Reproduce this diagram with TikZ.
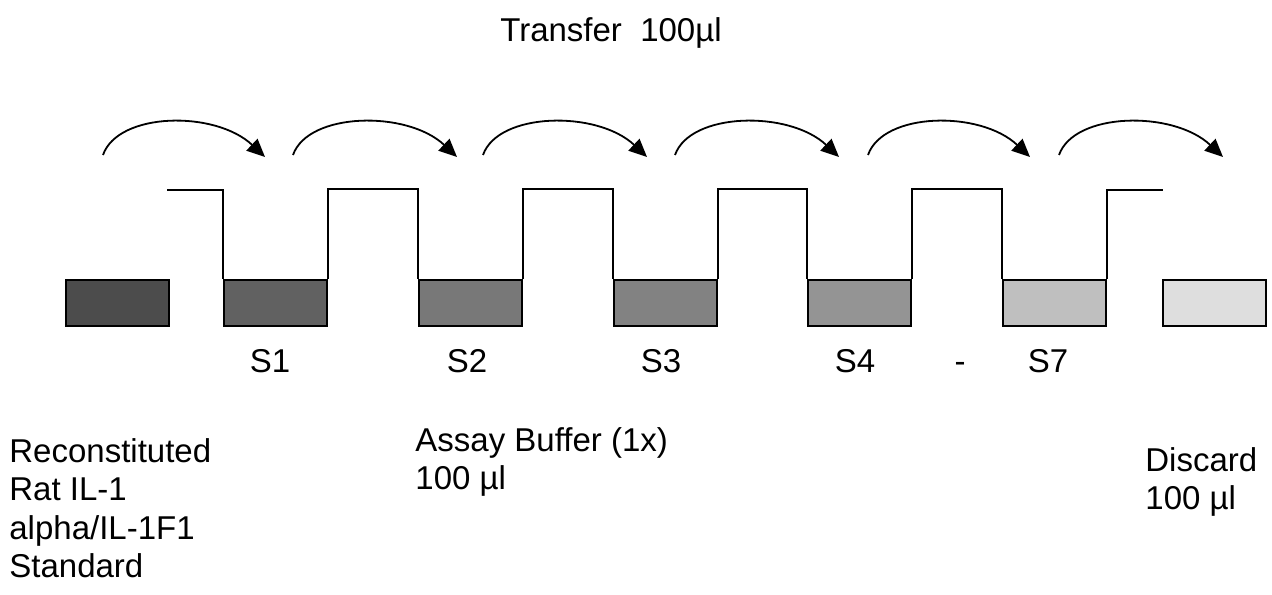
\documentclass[tikz,border=0pt]{standalone}
\usepackage{fontspec}
\setmainfont{Liberation Sans}
\usetikzlibrary{arrows.meta, positioning}
\usepackage{xcolor}

\begin{document}
\begin{tikzpicture}[x=0.5pt,y=-0.5pt]
    \tikzstyle{well}=[rectangle,draw=black,line width=1pt,minimum width=51.5pt,minimum height=23pt,inner sep=0pt]
    \tikzstyle{level}=[draw=black,line width=0.8pt]
    \tikzstyle{transfer}=[-{Triangle[length=9pt,width=8pt]},line width=0.9pt]
    \tikzstyle{annot}=[inner sep=0pt,font=\fontsize{16.5pt}{19.2pt}\selectfont]
    \tikzstyle{block}=[annot,align=left,anchor=north west]

    \useasboundingbox (0,0) rectangle (1272,594);

    % Draw the wells, darkest on the left
    \foreach \name / \x / \shade in {0/117.5/70, 1/275.5/62, 2/470.5/53, 3/665.5/49, 4/859.5/42, 7/1054.5/25, 8/1214.5/13}
        \node[well, fill=black!\shade] (W-\name) at (\x,303) {};

    % Draw the liquid level running into the wells
    \coordinate (L-start) at (167,190);
    \coordinate (L-end) at (1163,190);
    \draw[level] (L-start) -| (W-1.north west);
    \foreach \a / \b in {1/2,2/3,3/4,4/7}
        \draw[level] (W-\a.north east) -- ++(0,-90) -| (W-\b.north west);
    \draw[level] (W-7.north east) |- (L-end);

    % Transfer arrows
    \foreach \i / \s / \e in {1/103/265, 2/293/457, 3/483/647, 4/675/839, 5/868/1030, 6/1059/1223} {
        \coordinate (T-\i-a) at (\s,155);
        \coordinate (T-\i-b) at (\e,157);
        \draw[transfer] (T-\i-a) .. controls +(15,-43) and +(-50,-47) .. (T-\i-b);
    }

    % Labels
    \foreach \name / \x in {1/270, 2/467, 3/661, 4/855, 7/1048}
        \node[annot, anchor=base] (N-\name) at (\x,372) {S\name};
    \node[annot, anchor=base] (dash) at (960,372) {-};
    \node[annot, anchor=base] (title) at (611,41) {Transfer\ \ 100µl};
    \node[block] (std) at (9,438) {Reconstituted\\Rat IL-1\\alpha/IL-1F1\\Standard};
    \node[block] (buf) at (415,427) {Assay Buffer (1x)\\100 µl};
    \node[block] (dis) at (1145,447) {Discard\\100 µl};
\end{tikzpicture}
\end{document}
